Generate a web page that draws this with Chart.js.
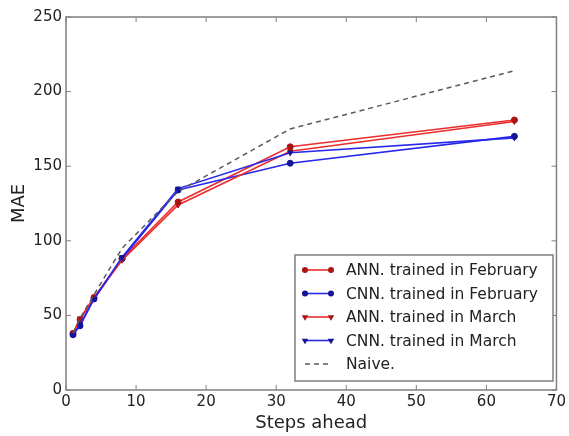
<!DOCTYPE html>
<html><head><meta charset="utf-8">
<script src="https://cdn.jsdelivr.net/npm/chart.js@4/dist/chart.umd.min.js"></script>
<style>html,body{margin:0;padding:0;background:#fff}#wrap{width:569px;height:436px}</style>
</head><body><div id="wrap"><canvas id="c" width="569" height="436"></canvas></div>
<script>
const steps = [1, 2, 4, 8, 16, 32, 64];
const annFeb = [38, 47, 62, 88, 126, 163, 181];
const cnnFeb = [37, 43, 61, 88, 134, 152, 170];
const annMar = [38, 48, 62, 87, 124, 160, 180];
const cnnMar = [37, 44, 61, 89, 135, 159, 169];
const naive  = [38, 48, 64, 95, 133, 175, 214];
const seriesLabels = ["ANN. trained in February", "CNN. trained in February", "ANN. trained in March", "CNN. trained in March", "Naive."];
const xTicks = [0, 10, 20, 30, 40, 50, 60, 70];
const yTicks = [0, 50, 100, 150, 200, 250];

const FONT = "'DejaVu Sans', sans-serif";
const pts = arr => steps.map((s, i) => ({x: s, y: arr[i]}));
const RED = 'rgb(235,45,45)', RED_D = 'rgb(170,20,20)';
const BLUE = 'rgb(40,40,235)', BLUE_D = 'rgb(20,20,150)';

function ds(label, data, line, mark, style, rot, rad, order) {
  return {label, data: pts(data), borderColor: line, backgroundColor: mark, pointBorderColor: mark,
    pointBackgroundColor: mark, pointStyle: style, pointRotation: rot, pointRadius: rad, pointBorderWidth: 1,
    borderWidth: 1.6, tension: 0, order, fill: false};
}
const datasets = [
  ds(seriesLabels[0], annFeb, RED, RED_D, 'circle', 0, 3, 5),
  ds(seriesLabels[1], cnnFeb, BLUE, BLUE_D, 'circle', 0, 3, 4),
  ds(seriesLabels[2], annMar, RED, RED_D, 'triangle', 180, 3, 3),
  ds(seriesLabels[3], cnnMar, BLUE, BLUE_D, 'triangle', 180, 3, 2),
  {label: seriesLabels[4], data: pts(naive), borderColor: 'rgb(90,90,90)', borderDash: [5, 4], borderWidth: 1.5,
   pointRadius: 0, tension: 0, order: 1, fill: false}
];

const framePlugin = {
  id: 'frame',
  afterDatasetsDraw(chart) {
    const {ctx, chartArea: a, scales} = chart;
    ctx.save();
    ctx.strokeStyle = '#808080';
    ctx.lineWidth = 1.5;
    ctx.strokeRect(a.left, a.top, a.right - a.left, a.bottom - a.top);
    ctx.lineWidth = 1;
    ctx.beginPath();
    xTicks.forEach(v => { const px = scales.x.getPixelForValue(v);
      ctx.moveTo(px, a.bottom); ctx.lineTo(px, a.bottom - 5);
      ctx.moveTo(px, a.top); ctx.lineTo(px, a.top + 5); });
    yTicks.forEach(v => { const py = scales.y.getPixelForValue(v);
      ctx.moveTo(a.left, py); ctx.lineTo(a.left + 5, py);
      ctx.moveTo(a.right, py); ctx.lineTo(a.right - 5, py); });
    ctx.stroke();
    // legend
    const bx = 295, by = 255, bw = 258, bh = 126, rowH = 23.5;
    ctx.fillStyle = '#fff';
    ctx.fillRect(bx, by, bw, bh);
    ctx.strokeStyle = '#808080';
    ctx.lineWidth = 1.5;
    ctx.strokeRect(bx, by, bw, bh);
    chart.data.datasets.forEach((d, i) => {
      const y = by + 15 + i * rowH;
      ctx.save();
      ctx.strokeStyle = d.borderColor;
      ctx.lineWidth = d.borderWidth;
      ctx.setLineDash(d.borderDash || []);
      ctx.beginPath(); ctx.moveTo(305, y); ctx.lineTo(331, y); ctx.stroke();
      ctx.restore();
      if (d.pointRadius > 0) {
        ctx.fillStyle = d.pointBackgroundColor; ctx.strokeStyle = d.pointBorderColor;
        [305, 331].forEach(px => {
          Chart.helpers.drawPoint(ctx, {pointStyle: d.pointStyle, rotation: d.pointRotation, radius: d.pointRadius * 0.75, borderWidth: 1}, px, y); });
      }
      ctx.fillStyle = '#222';
      ctx.font = "15.5px " + FONT;
      ctx.textBaseline = 'middle';
      ctx.textAlign = 'left';
      ctx.fillText(d.label, 346, y + 1);
    });
    ctx.restore();
  }
};

new Chart(document.getElementById('c'), {
  type: 'line',
  data: {datasets},
  plugins: [framePlugin],
  options: {
    responsive: false, animation: false, devicePixelRatio: 1,
    layout: {padding: {left: 7, top: 17, right: 11, bottom: 0}},
    plugins: {legend: {display: false}, tooltip: {enabled: false}},
    scales: {
      x: {type: 'linear', min: 0, max: 70,
        afterBuildTicks: s => { s.ticks = xTicks.map(v => ({value: v})); },
        afterFit: s => { s.height = 46; },
        grid: {display: false, drawTicks: false}, border: {display: false},
        ticks: {padding: 3, color: '#222', font: {family: FONT, size: 15}, maxRotation: 0},
        title: {display: true, text: 'Steps ahead', color: '#222', font: {family: FONT, size: 18}, padding: {top: 0, bottom: 2}}},
      y: {min: 0, max: 250,
        afterBuildTicks: s => { s.ticks = yTicks.map(v => ({value: v})); },
        afterFit: s => { s.width = 59; },
        grid: {display: false, drawTicks: false}, border: {display: false},
        ticks: {padding: 4, color: '#222', font: {family: FONT, size: 15}},
        title: {display: true, text: 'MAE', color: '#222', font: {family: FONT, size: 18}, padding: {top: 2, bottom: 2}}}
    }
  }
});
</script></body></html>
